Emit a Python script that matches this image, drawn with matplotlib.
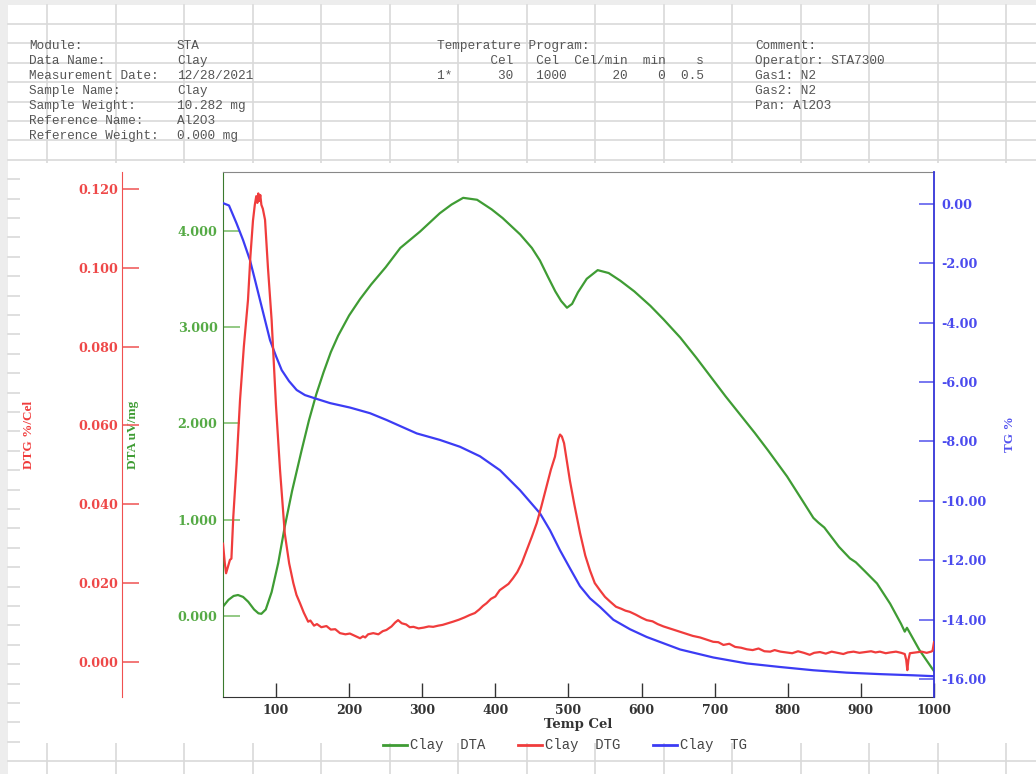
"""STA thermogram (DTA / DTG / TG) of the clay sample, redrawn with matplotlib."""

import matplotlib.pyplot as plt
import numpy as np
from matplotlib.patches import Rectangle
from matplotlib.ticker import FormatStrFormatter

dta_temp = [27.5, 35, 42, 48, 55, 62, 70, 76, 80, 86, 94, 103, 112, 122, 135, 145,
            155, 165, 175, 185, 200, 215, 230, 250, 270, 297, 324, 340, 356, 375,
            395, 410, 434, 450, 461, 472, 482, 490, 498, 505, 513, 525, 540, 555,
            571, 590, 612, 630, 653, 675, 694, 715, 735, 755, 773, 799, 820, 835,
            842, 850, 870, 885, 893, 905, 922, 940, 955, 960, 963, 966, 980, 1000]
dta_val = [0.10, 0.17, 0.21, 0.22, 0.20, 0.15, 0.07, 0.03, 0.025, 0.07, 0.25, 0.55,
           0.93, 1.30, 1.72, 2.03, 2.30, 2.53, 2.74, 2.91, 3.12, 3.29, 3.44, 3.62,
           3.82, 3.99, 4.18, 4.27, 4.34, 4.32, 4.22, 4.13, 3.96, 3.82, 3.69, 3.52,
           3.37, 3.27, 3.20, 3.24, 3.36, 3.50, 3.59, 3.56, 3.48, 3.37, 3.22, 3.08,
           2.89, 2.68, 2.49, 2.28, 2.09, 1.90, 1.72, 1.45, 1.20, 1.02, 0.97, 0.92,
           0.72, 0.60, 0.56, 0.47, 0.34, 0.13, -0.08, -0.16, -0.12, -0.16, -0.35,
           -0.57]

dtg_temp = [27.5, 30, 31.7, 34, 37, 39, 41.6, 46, 50.8, 56, 61.7, 65, 68.5, 71, 73,
            74.5, 75.8, 77, 78.5, 80, 82, 85, 89, 94, 100, 105.5, 112, 118, 123.7,
            128, 132.8, 138, 144, 147, 152, 156, 162, 169, 175, 181, 187.5, 195,
            201, 208, 215, 219, 222, 226, 233, 240, 246, 251, 258, 263, 267, 272,
            278, 283, 288, 295, 302, 309, 315, 322, 328, 335, 342, 350, 358, 365,
            372, 378, 383, 388, 394, 400, 406, 412, 418, 424, 430, 436, 443, 450,
            456.6, 463, 470, 476, 481.6, 486, 488.5, 491, 494, 497.6, 502, 508, 516,
            523, 529.5, 536, 543, 550, 557, 565, 572, 578, 584, 592, 600, 607, 615,
            622, 630, 640, 652, 660, 670, 680, 690, 698, 705, 712, 720, 728, 736,
            744, 752, 760, 768, 776, 782, 790, 798, 806, 814, 822, 830, 836, 844,
            852, 860, 868, 876, 882, 890, 898, 906, 914, 920, 926, 934, 940, 948,
            955, 960, 962, 963.5, 965, 967, 975, 983, 990, 996, 998, 1000]
dtg_val = [0.0300, 0.0250, 0.0225, 0.0240, 0.0259, 0.0262, 0.0369, 0.0500, 0.0665,
           0.0800, 0.0919, 0.1030, 0.1120, 0.1160, 0.1182, 0.1165, 0.1189, 0.1170,
           0.1185, 0.1160, 0.1150, 0.1122, 0.1000, 0.0868, 0.0650, 0.0487, 0.0326,
           0.0250, 0.0200, 0.0170, 0.0149, 0.0125, 0.0102, 0.0105, 0.0092, 0.0096,
           0.0088, 0.0091, 0.0082, 0.0083, 0.0073, 0.0070, 0.0072, 0.0066, 0.0060,
           0.0065, 0.0062, 0.0070, 0.0073, 0.0070, 0.0078, 0.0081, 0.0090, 0.0100,
           0.0106, 0.0098, 0.0095, 0.0088, 0.0089, 0.0085, 0.0087, 0.0090, 0.0089,
           0.0092, 0.0094, 0.0098, 0.0102, 0.0107, 0.0113, 0.0119, 0.0124, 0.0133,
           0.0142, 0.0149, 0.0160, 0.0166, 0.0182, 0.0190, 0.0198, 0.0212, 0.0228,
           0.0250, 0.0284, 0.0318, 0.0352, 0.0395, 0.0445, 0.0488, 0.0521, 0.0565,
           0.0577, 0.0572, 0.0555, 0.0512, 0.0460, 0.0400, 0.0326, 0.0270, 0.0232,
           0.0200, 0.0182, 0.0165, 0.0153, 0.0140, 0.0135, 0.0130, 0.0127, 0.0120,
           0.0112, 0.0106, 0.0103, 0.0096, 0.0090, 0.0084, 0.0077, 0.0072, 0.0066,
           0.0062, 0.0056, 0.0051, 0.0050, 0.0043, 0.0046, 0.0038, 0.0036, 0.0032,
           0.0030, 0.0034, 0.0027, 0.0026, 0.0030, 0.0026, 0.0024, 0.0022, 0.0027,
           0.0023, 0.0018, 0.0023, 0.0025, 0.0021, 0.0026, 0.0023, 0.0020, 0.0024,
           0.0026, 0.0023, 0.0025, 0.0027, 0.0024, 0.0026, 0.0022, 0.0024, 0.0026,
           0.0023, 0.0020, 0.0005, -0.0021, 0.0005, 0.0022, 0.0024, 0.0026, 0.0023,
           0.0026, 0.0028, 0.0050]

tg_temp = [27.5, 35.7, 46, 54.9, 64.4, 71.3, 78.1, 85, 91.8, 100, 107.8, 117.8,
           128.3, 139.6, 153.3, 173.9, 201.2, 228.6, 251.4, 269.6, 292.5, 324.3,
           351.7, 379, 406.4, 433.7, 461.1, 474.8, 488.4, 502.1, 515.8, 529.5,
           543.2, 561.4, 584.2, 607, 652.6, 698.1, 743.8, 789.3, 834.9, 880.5,
           926.1, 971.7, 1000]
tg_val = [0.02, -0.06, -0.66, -1.22, -1.90, -2.57, -3.24, -3.92, -4.59, -5.13,
          -5.60, -5.97, -6.27, -6.44, -6.55, -6.71, -6.86, -7.05, -7.28, -7.48,
          -7.73, -7.95, -8.18, -8.50, -8.97, -9.64, -10.42, -10.99, -11.66, -12.27,
          -12.87, -13.28, -13.57, -14.00, -14.32, -14.58, -15.00, -15.27, -15.47,
          -15.59, -15.70, -15.78, -15.83, -15.87, -15.90]

temp_ticks = [100, 200, 300, 400, 500, 600, 700, 800, 900, 1000]
dta_ticks = [0, 1, 2, 3, 4]
dtg_ticks = [0.0, 0.02, 0.04, 0.06, 0.08, 0.10, 0.12]
tg_ticks = [0, -2, -4, -6, -8, -10, -12, -14, -16]

header_left = [("Module:", "STA"), ("Data Name:", "Clay"),
               ("Measurement Date:", "12/28/2021"), ("Sample Name:", "Clay"),
               ("Sample Weight:", "10.282 mg"), ("Reference Name:", "Al2O3"),
               ("Reference Weight:", "0.000 mg")]
header_program = ["Temperature Program:",
                  "       Cel   Cel  Cel/min  min    s",
                  "1*      30   1000      20    0  0.5"]
header_comment = ["Comment:", "Operator: STA7300", "Gas1: N2", "Gas2: N2",
                  "Pan: Al2O3"]

GREEN, RED, BLUE = "#3f9c34", "#f03c3c", "#3c3cf4"
W, H = 1036, 774
MONO = "Liberation Mono"
HEAD = dict(family=MONO, weight="normal", fontsize=9.2, color="#555555",
            va="center", zorder=4)

plt.rcParams["font.family"] = "DejaVu Serif"
plt.rcParams["font.weight"] = "bold"

fig = plt.figure(figsize=(W / 100, H / 100), dpi=100)

# spreadsheet behind the pasted chart, in pixel coordinates
bg = fig.add_axes([0, 0, 1, 1], zorder=0)
bg.set_xlim(0, W)
bg.set_ylim(H, 0)
bg.axis("off")
bg.add_patch(Rectangle((0, 0), W, 5, color="#ededed", lw=0))
bg.add_patch(Rectangle((0, 0), 8, H, color="#ededed", lw=0))
for gx in np.arange(47, W, 68.5):
    bg.plot([gx, gx], [5, H], color="#d9d9d9", lw=1.2, zorder=1)
for gy in np.arange(24, H, 19.4):
    bg.plot([8, W], [gy, gy], color="#d9d9d9", lw=1.2, zorder=1)
bg.add_patch(Rectangle((20, 163), W - 20, 580, color="white", lw=0, zorder=3))

for i, (key, value) in enumerate(header_left):
    bg.text(29, 46 + 15 * i, key, **HEAD)
    bg.text(177, 46 + 15 * i, value, **HEAD)
for i, line in enumerate(header_program):
    bg.text(437, 46 + 15 * i, line, **HEAD)
for i, line in enumerate(header_comment):
    bg.text(755, 46 + 15 * i, line, **HEAD)

# legend under the plot
for x0, color, label in [(383, GREEN, "Clay  DTA"), (518, RED, "Clay  DTG"),
                         (653, BLUE, "Clay  TG")]:
    bg.plot([x0, x0 + 24], [745, 745], color=color, lw=2, zorder=4)
    bg.text(x0 + 27, 745, label, family=MONO, weight="normal", fontsize=10,
            color="#444444", va="center", zorder=4)

# three y axes over one temperature axis
ax = fig.add_axes([223 / W, 1 - 697 / H, 711 / W, 525 / H], zorder=2)
ax.patch.set_visible(False)
ax_tg = ax.twinx()
ax_dtg = ax.twinx()
ax_tg.set_zorder(3)
ax_dtg.set_zorder(4)

ax.plot(dta_temp, dta_val, color=GREEN, lw=1.6)
ax_dtg.plot(dtg_temp, dtg_val, color=RED, lw=1.6)
ax_tg.plot(tg_temp, tg_val, color=BLUE, lw=1.6)

ax.set_xlim(27.5, 1000)
ax.set_ylim(-0.838, 4.608)
ax_dtg.set_ylim(-0.00891, 0.12434)
ax_tg.set_ylim(-16.6, 1.067)

ax.set_xticks(temp_ticks)
ax.set_yticks(dta_ticks)
ax_dtg.set_yticks(dtg_ticks)
ax_tg.set_yticks(tg_ticks)
ax.yaxis.set_major_formatter(FormatStrFormatter("%.3f"))
ax_dtg.yaxis.set_major_formatter(FormatStrFormatter("%.3f"))
ax_tg.yaxis.set_major_formatter(FormatStrFormatter("%.2f"))

ax.spines["right"].set_visible(False)
ax.spines["top"].set_color("#888888")
ax.spines["bottom"].set_color("#333333")
ax.spines["left"].set_color("#3a7a2e")
for name in ("top", "bottom", "left"):
    ax_tg.spines[name].set_visible(False)
    ax_dtg.spines[name if name != "left" else "right"].set_visible(False)
ax_tg.spines["right"].set_color("#3434d8")
ax_tg.spines["right"].set_linewidth(1.3)

ax_dtg.yaxis.set_ticks_position("left")
ax_dtg.yaxis.set_label_position("left")
ax_dtg.spines["left"].set_visible(True)
ax_dtg.spines["left"].set_position(("axes", -0.142))
ax_dtg.spines["left"].set_color("#f05050")

ax.tick_params(axis="x", direction="in", length=10, width=1, color="#333333",
               pad=5, labelsize=9, labelcolor="#333333")
ax.tick_params(axis="y", direction="in", length=12, width=1.2, color="#80c070",
               pad=4, labelsize=9.2, labelcolor="#55aa45")
ax_dtg.tick_params(axis="y", direction="in", length=12, width=1.2, color="#f06060",
                   pad=3, labelsize=9.2, labelcolor="#ee4848")
ax_tg.tick_params(axis="y", direction="in", length=11, width=1.2, color="#6060ee",
                  pad=5, labelsize=9.2, labelcolor="#4a4aee")

ax.set_xlabel("Temp Cel", fontsize=9.5, weight="bold", color="#333333")
ax.xaxis.set_label_coords(0.5, -0.040)
ax.set_ylabel("DTA uV/mg", family="Liberation Serif", fontsize=9.5,
              weight="bold", color=GREEN)
ax.yaxis.set_label_coords(-0.118, 0.5)
ax_dtg.set_ylabel("DTG %/Cel", family="Liberation Serif", fontsize=9.5,
                  weight="bold", color=RED)
ax_dtg.yaxis.set_label_coords(-0.264, 0.5)
ax_tg.set_ylabel("TG %", family="Liberation Serif", fontsize=9.5,
                 weight="bold", color="#5050ee")
ax_tg.yaxis.set_label_coords(1.098, 0.5)

fig.savefig("out.png", dpi=100)
plt.close(fig)
